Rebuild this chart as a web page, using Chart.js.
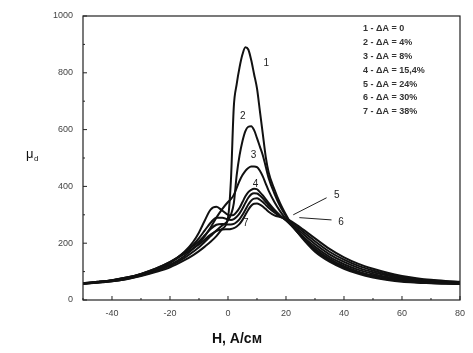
<!DOCTYPE html>
<html>
<head>
<meta charset="utf-8">
<script src="https://cdn.jsdelivr.net/npm/chart.js@4.4.1/dist/chart.umd.min.js"></script>
<style>
  html, body { margin: 0; padding: 0; background: #fff; }
  #wrap { width: 473px; height: 353px; }
</style>
</head>
<body>
<div id="wrap"><canvas id="mu-chart" width="473" height="353"></canvas></div>
<script>
// field H, A/cm
var H = [-50,-45,-40,-35,-30,-25,-20,-15,-12,-10,-8,-6,-4,-2,0,1,2,3,4,5,6,7,8,9,10,11,12,13,14,16,18,20,22,25,30,35,40,45,50,55,60,65,70,75,80];

// mu_d for each deformation
var mu1 = [58,62,66,73,84,98,115,140,158,172,188,205,225,250,290,420,680,760,820,865,890,882,845,795,745,665,585,505,450,390,340,300,265,225,170,135,110,92,79,70,64,61,59,57,56];
var mu2 = [57,61,66,74,86,101,120,148,170,186,205,225,245,262,280,300,340,440,510,560,595,610,612,598,570,540,510,470,430,375,330,295,265,228,175,140,115,96,83,73,67,63,60,58,57];
var mu3 = [57,62,67,75,88,104,124,155,180,200,225,255,290,320,345,355,370,395,420,440,455,465,470,470,468,455,435,410,385,345,312,285,260,228,180,145,119,100,87,77,70,65,62,60,58];
var mu4 = [58,63,68,77,90,107,130,170,205,238,280,318,328,315,300,298,300,310,325,345,365,380,388,392,390,380,368,355,342,318,298,280,262,232,188,152,126,106,92,81,73,68,64,61,60];
var mu5 = [58,63,69,78,91,108,132,168,195,218,245,272,290,290,283,282,285,293,305,322,342,360,372,376,375,368,358,346,334,312,295,282,267,240,197,161,134,113,98,86,77,71,66,63,61];
var mu6 = [59,64,70,79,92,110,134,166,190,207,228,250,265,268,266,266,268,275,285,300,318,336,350,357,358,353,345,335,325,308,294,284,272,248,207,170,142,120,104,91,81,74,69,65,62];
var mu7 = [59,64,70,79,92,110,133,162,182,196,213,230,243,248,249,250,253,259,268,282,300,318,332,339,340,336,329,320,311,298,292,286,276,255,217,180,150,127,110,96,85,77,71,67,64];

var legendText = ["1 - \u0394A = 0", "2 - \u0394A = 4%", "3 - \u0394A = 8%", "4 - \u0394A = 15,4%", "5 - \u0394A = 24%", "6 - \u0394A = 30%", "7 - \u0394A = 38%"];
var xTicks = [-40, -20, 0, 20, 40, 60, 80];
var yTicks = [0, 200, 400, 600, 800, 1000];

// curve number labels, in data coords
var curveLabels = [
  { t: "1", x: 13.2, y: 835 },
  { t: "2", x: 5.1, y: 648 },
  { t: "3", x: 8.8, y: 510 },
  { t: "4", x: 9.5, y: 408 },
  { t: "5", x: 37.5, y: 368, lx: 34, ly: 360, ex: 22.5, ey: 300 },
  { t: "6", x: 39, y: 273, lx: 35.7, ly: 282, ex: 24.6, ey: 290 },
  { t: "7", x: 6.1, y: 272 }
];

function line(data) {
  return {
    data: data.map(function (v, i) { return { x: H[i], y: v }; }),
    borderColor: "#111",
    borderWidth: 2,
    pointRadius: 0,
    cubicInterpolationMode: "monotone",
    fill: false
  };
}

var extras = {
  id: "extras",
  afterDraw: function (chart) {
    var ctx = chart.ctx, a = chart.chartArea;
    var xs = chart.scales.x, ys = chart.scales.y;
    ctx.save();
    // frame
    ctx.strokeStyle = "#222";
    ctx.lineWidth = 1.2;
    ctx.strokeRect(a.left, a.top, a.right - a.left, a.bottom - a.top);
    // inner ticks
    ctx.lineWidth = 1;
    ctx.beginPath();
    for (var v = -50; v <= 80; v += 10) {
      var px = xs.getPixelForValue(v);
      var len = (v % 20 === 0) ? 4 : 2;
      ctx.moveTo(px, a.bottom); ctx.lineTo(px, a.bottom - len);
    }
    for (var w = 0; w <= 1000; w += 100) {
      var py = ys.getPixelForValue(w);
      var l2 = (w % 200 === 0) ? 4 : 2;
      ctx.moveTo(a.left, py); ctx.lineTo(a.left + l2, py);
    }
    ctx.stroke();

    // legend text
    ctx.fillStyle = "#333";
    ctx.font = "bold 9px 'Liberation Sans', Arial, sans-serif";
    ctx.textBaseline = "middle";
    ctx.textAlign = "left";
    legendText.forEach(function (s, i) {
      ctx.fillText(s, 363, 29 + i * 13.8);
    });

    // curve labels
    ctx.font = "10px 'Liberation Sans', Arial, sans-serif";
    ctx.textAlign = "center";
    ctx.fillStyle = "#222";
    curveLabels.forEach(function (c) {
      ctx.fillText(c.t, xs.getPixelForValue(c.x), ys.getPixelForValue(c.y));
      if (c.lx !== undefined) {
        ctx.beginPath();
        ctx.moveTo(xs.getPixelForValue(c.lx), ys.getPixelForValue(c.ly));
        ctx.lineTo(xs.getPixelForValue(c.ex), ys.getPixelForValue(c.ey));
        ctx.stroke();
      }
    });

    // axis titles
    ctx.font = "bold 14px 'Liberation Sans', Arial, sans-serif";
    ctx.fillStyle = "#111";
    ctx.textAlign = "center";
    ctx.fillText("H, A/\u0441\u043c", 237, 339);
    ctx.font = "13px 'Liberation Sans', Arial, sans-serif";
    ctx.textAlign = "left";
    ctx.fillText("\u03bc", 26, 154);
    ctx.font = "8px 'Liberation Sans', Arial, sans-serif";
    ctx.fillText("d", 34, 159);
    ctx.restore();
  }
};

new Chart(document.getElementById("mu-chart"), {
  type: "line",
  data: {
    datasets: [line(mu1), line(mu2), line(mu3), line(mu4), line(mu5), line(mu6), line(mu7)]
  },
  options: {
    responsive: false,
    animation: false,
    layout: { padding: { left: 0, top: 16, right: 3, bottom: 0 } },
    plugins: { legend: { display: false }, tooltip: { enabled: false } },
    scales: {
      x: {
        type: "linear",
        min: -50,
        max: 80,
        afterBuildTicks: function (s) { s.ticks = xTicks.map(function (v) { return { value: v }; }); },
        afterFit: function (s) { s.height = 53; },
        grid: { display: false, drawTicks: false },
        border: { display: false },
        ticks: { padding: 8, color: "#444", font: { size: 9, family: "'Liberation Sans', Arial, sans-serif" }, maxRotation: 0 }
      },
      y: {
        min: 0,
        max: 1000,
        afterBuildTicks: function (s) { s.ticks = yTicks.map(function (v) { return { value: v }; }); },
        afterFit: function (s) { s.width = 83; },
        grid: { display: false, drawTicks: false },
        border: { display: false },
        ticks: {
          padding: 10, color: "#444", font: { size: 9, family: "'Liberation Sans', Arial, sans-serif" },
          callback: function (v) { return String(v); }
        }
      }
    }
  },
  plugins: [extras]
});
</script>
</body>
</html>
